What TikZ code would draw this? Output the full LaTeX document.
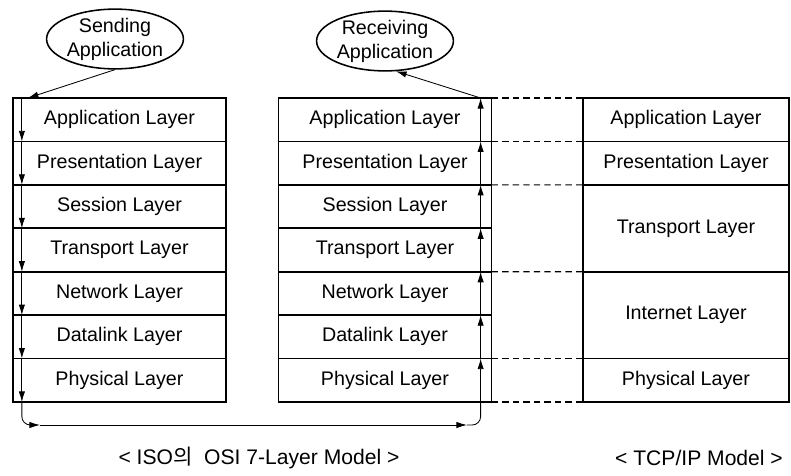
\documentclass[tikz,border=0pt]{standalone}
\usepackage{fontspec}
\setmainfont{Liberation Sans}
\newfontfamily\kofont{Noto Sans CJK KR}
\usetikzlibrary{calc,arrows.meta,shapes.geometric}

\begin{document}
\begin{tikzpicture}[x=0.025cm,y=-0.025cm,
  layer/.style={draw,line width=1.2pt,minimum width=5.33cm,inner sep=0pt,outer sep=0pt,font=\fontsize{14}{17}\selectfont},
  app/.style={draw,ellipse,line width=1.1pt,minimum width=3.42cm,minimum height=1.4cm,inner sep=0pt,align=center,font=\fontsize{14}{17}\selectfont},
  flow/.style={-{Latex[length=7.5pt,width=4.5pt]},line width=0.6pt},
  link/.style={dash pattern=on 4.5pt off 3pt,line width=0.8pt}]
\def \h {43.43};
\useasboundingbox (0,0) rectangle (791,475);
% Anwendungen
\node[app] (send) at (115,39) {Sending\\Application};
\node[app] (recv) at (385,41) {Receiving\\Application};
% OSI-Schichten
\foreach \name [count=\i] in {Application Layer,Presentation Layer,Session Layer,Transport Layer,Network Layer,Datalink Layer,Physical Layer}{
  \node[layer,minimum height=1.0857cm] (s\i) at (119.5,{98+\h*(\i-0.5)}) {\name};
  \node[layer,minimum height=1.0857cm] (r\i) at (385,{98+\h*(\i-0.5)}) {\name};
}
% TCP/IP-Schichten
\foreach \name/\a/\k [count=\j] in {Application Layer/0/1,Presentation Layer/1/1,Transport Layer/2/2,Internet Layer/4/2,Physical Layer/6/1}
  \node[layer,minimum width=5.15cm,minimum height=\k*1.0857cm] (t\j) at (686,{98+\h*(\a+\k/2)}) {\name};
% Datenfluss
\foreach \i in {1,...,7}
  \draw[flow] ($(s\i.north west)+(9,0)$) -- ($(s\i.south west)+(9,0)$);
\foreach \i in {1,...,7}
  \draw[flow] ($(r\i.south east)+(-11,0)$) -- ($(r\i.north east)+(-11,0)$);
\draw[flow] (send.south) -- ($(s1.north west)+(15,0)$);
\draw[flow] ($(r1.north east)+(-11,0)$) -- (recv.290);
\coordinate (u1) at (40,425);
\coordinate (u2) at (467,425);
\draw[flow,rounded corners=6pt] ($(s7.south west)+(9,0)$) |- (u1);
\draw[flow] (u1) -- (u2);
\draw[line width=0.6pt,rounded corners=6pt] (u2) -| ($(r7.south east)+(-11,0)$);
% Zuordnung
\foreach \i/\j in {1/1,2/2,3/3,5/4,7/5}
  \draw[link] (r\i.north east) -- (t\j.north west);
\draw[link] (r7.south east) -- (t5.south west);
% Beschriftung
\node[font=\fontsize{15}{18}\selectfont] (osi) at (259,458) {< ISO{\kofont 의}\ \ OSI 7-Layer Model >};
\node[font=\fontsize{15}{18}\selectfont] (tcp) at (699,458) {< TCP/IP Model >};
\end{tikzpicture}
\end{document}
